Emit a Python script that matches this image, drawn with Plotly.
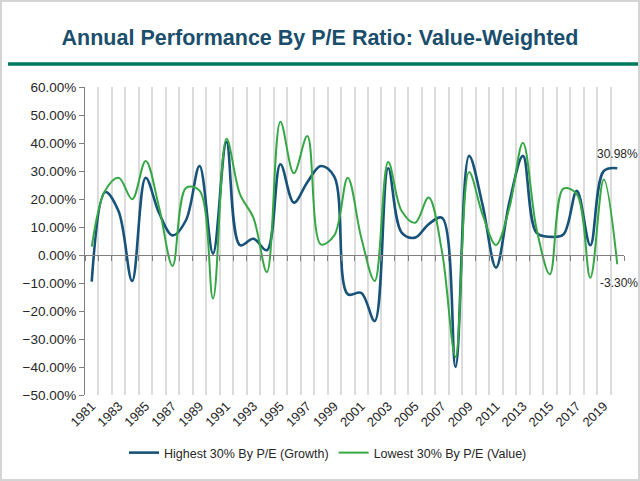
import plotly.graph_objects as go

years = list(range(1981, 2021))
growth = [-9.5, 22.5, 15.5, -9.3, 27.6, 15.0, 7.0, 12.5, 31.8, 0.5,
          40.4, 3.5, 5.8, 1.7, 32.4, 18.7, 26.0, 31.8, 28.0, -14.0,
          -13.5, -23.6, 31.0, 8.0, 6.2, 11.0, 13.3, -40.0, 35.4, 18.0,
          -4.5, 19.0, 35.4, 8.0, 6.5, 7.3, 22.9, 3.5, 30.0, 30.98]
value = [3.0, 23.0, 27.6, 19.9, 33.6, 17.0, -3.9, 24.0, 23.0, -15.5,
         41.5, 21.7, 13.3, -6.1, 47.6, 29.2, 42.5, 3.8, 7.0, 27.6,
         6.2, -9.3, 33.2, 15.7, 11.5, 20.5, 1.0, -36.4, 29.6, 14.5,
         3.6, 17.0, 40.1, 9.6, -6.9, 23.7, 21.7, -8.1, 27.0, -3.3]
tick_years = list(range(1981, 2020, 2))
tick_labels = [str(y) for y in tick_years]
series_names = ["Highest 30% By P/E (Growth)", "Lowest 30% By P/E (Value)"]
title_text = "Annual Performance By P/E Ratio: Value-Weighted"

BLUE = "#17527a"
GREEN = "#35a845"
FONT = "Liberation Sans, Arial, sans-serif"

fig = go.Figure()

# plot area pixel geometry
L, R, T, B = 85, 624, 87, 395
W, H = R - L, B - T
def px(x):
    return (x - L) / W
def py(y):
    return (B - y) / H

xr = [years[0] - 0.5, years[-1] + 0.5]
ymin, ymax = -50, 60

# invisible trace to activate xaxis2 (vertical gridlines + zero axis line)
fig.add_trace(go.Scatter(x=[xr[0]], y=[0], xaxis="x2", yaxis="y", mode="markers",
                         marker=dict(opacity=0), showlegend=False, hoverinfo="skip"))
fig.add_trace(go.Scatter(x=years, y=growth, mode="lines", name=series_names[0],
                         line=dict(color=BLUE, width=2.6, shape="spline", smoothing=1.0),
                         xaxis="x", yaxis="y"))
fig.add_trace(go.Scatter(x=years, y=value, mode="lines", name=series_names[1],
                         line=dict(color=GREEN, width=2.0, shape="spline", smoothing=1.0),
                         xaxis="x", yaxis="y"))

fig.update_layout(
    width=640, height=481,
    margin=dict(l=L, r=640 - R, t=T, b=481 - B),
    paper_bgcolor="white", plot_bgcolor="white",
    font=dict(family=FONT, size=13, color="#262626"),
    title=dict(text="<b>" + title_text + "</b>", x=0.5, xanchor="center",
               y=1 - 37 / 481, yanchor="middle",
               font=dict(family=FONT, size=21.5, color="#1a4e6c")),
    showlegend=True,
    legend=dict(orientation="h", x=px(328), xanchor="center", y=py(453), yanchor="middle",
                font=dict(size=12.5, color="#262626"), itemwidth=30,
                bgcolor="rgba(0,0,0,0)"),
    xaxis=dict(range=xr, tickmode="array", tickvals=tick_years, ticktext=tick_labels,
               tickangle=-45, showgrid=False, showline=False, ticks="",
               zeroline=False, tickfont=dict(size=13, color="#262626")),
    xaxis2=dict(range=xr, overlaying="x", anchor="free", position=(0 - ymin) / (ymax - ymin),
                tickmode="linear", tick0=years[0] - 0.5, dtick=1,
                showticklabels=False, showgrid=True, gridcolor="#dcdcdc", gridwidth=1.5,
                showline=True, linecolor="#808080", linewidth=1.2,
                ticks="outside", ticklen=5, tickcolor="#808080", zeroline=False),
    yaxis=dict(range=[ymin, ymax], tickmode="linear", tick0=ymin, dtick=10,
               tickformat=".2f", ticksuffix="%", showgrid=False, zeroline=False,
               showline=True, linecolor="#808080", linewidth=1.2,
               ticks="outside", ticklen=5, tickcolor="#808080",
               tickfont=dict(size=13.5, color="#262626")),
)

fig.add_annotation(x=years[-1], y=growth[-1], text=f"{growth[-1]:.2f}%", showarrow=False,
                   xanchor="center", yanchor="bottom", yshift=5,
                   font=dict(size=12, color="#262626"))
fig.add_annotation(x=years[-1], y=value[-1], text=f"{value[-1]:.2f}%", showarrow=False,
                   xanchor="center", yanchor="top", yshift=-10, xshift=2,
                   font=dict(size=12, color="#262626"))

# title rule and outer frame
fig.add_shape(type="line", xref="paper", yref="paper", x0=px(8), x1=px(640),
              y0=py(64), y1=py(64), line=dict(color="#007a5e", width=3.5))
fig.add_shape(type="rect", xref="paper", yref="paper", x0=px(1), x1=px(639),
              y0=py(480), y1=py(1), line=dict(color="#d4d4d4", width=2))

fig.write_html("out.html", config={"displayModeBar": False},
               post_script="document.body.style.margin='0';document.body.style.overflow='hidden';")
